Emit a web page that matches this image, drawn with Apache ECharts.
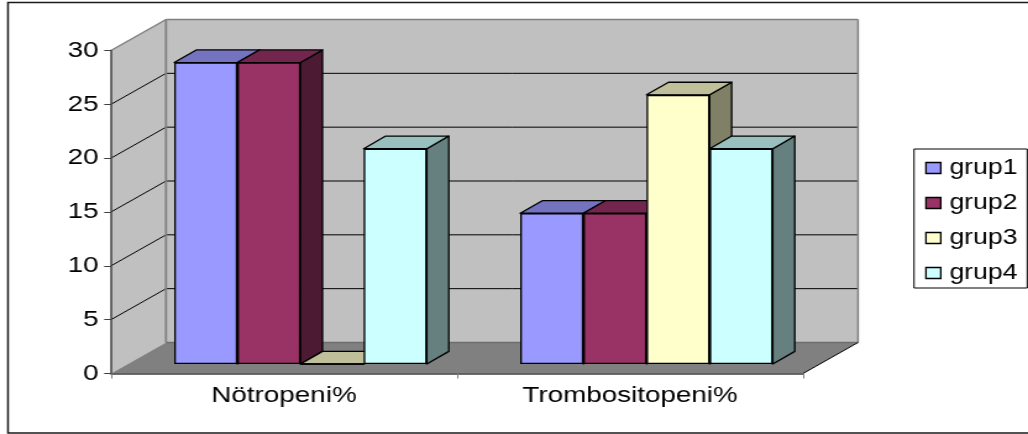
<!DOCTYPE html>
<html>
<head>
<meta charset="utf-8">
<script src="https://cdn.jsdelivr.net/npm/echarts@6/dist/echarts.min.js"></script>
<style>
  html, body { margin: 0; padding: 0; background: #fff; overflow: hidden; width: 1028px; height: 434px; }
  /* The chart is laid out narrow, then widened to its final shape. */
  #chart { width: 832px; height: 434px; transform-origin: 0 0; transform: scaleX(1.2356); }
</style>
</head>
<body>
<div id="chart"></div>
<script>
const categories = ['Nötropeni%', 'Trombositopeni%'];
const seriesNames = ['grup1', 'grup2', 'grup3', 'grup4'];
const grup1 = [28, 14];
const grup2 = [28, 14];
const grup3 = [0, 25];
const grup4 = [20, 20];
const valueTicks = [0, 5, 10, 15, 20, 25, 30];

const frontColors = ['#9999FF', '#993366', '#FFFFCC', '#CCFFFF'];
const topColors = ['#7373BF', '#73264D', '#BFBF99', '#99BFBF'];
const sideColors = ['#4D4D80', '#4D1A33', '#808066', '#668080'];

const stretch = 1028 / 832;
const px = v => v / stretch;          // final page x -> chart x
const FONT = 'Liberation Sans, Arial, sans-serif';
const plotWidth = px(692);
const plotHeight = 323;
const wallDx = px(55), wallDy = -31;  // front plane to back wall
const barDx = px(22), barDy = -12.6;  // depth of a bar
const gapRatio = 0.27;
const edge = { stroke: '#000', lineWidth: 1.3 };

const values = [grup1, grup2, grup3, grup4];

// Back wall, side wall, floor and their gridlines.
function renderWalls(params, api) {
  const r = params.coordSys;
  const x0 = r.x, x1 = r.x + r.width;
  const y0 = api.coord([0, 0])[1];
  const yTop = api.coord([0, 30])[1];
  const poly = (points, style) => ({ type: 'polygon', shape: { points }, style });
  const line = (a, b, stroke, lineWidth) => ({
    type: 'line',
    shape: { x1: a[0], y1: a[1], x2: b[0], y2: b[1] },
    style: { stroke, lineWidth }
  });
  const children = [
    poly([[x0 + wallDx, yTop + wallDy], [x1 + wallDx, yTop + wallDy],
          [x1 + wallDx, y0 + wallDy], [x0 + wallDx, y0 + wallDy]], { fill: '#C0C0C0' }),
    poly([[x0, yTop], [x0 + wallDx, yTop + wallDy], [x0 + wallDx, y0 + wallDy], [x0, y0]], { fill: '#C0C0C0' }),
    poly([[x0, y0], [x1, y0], [x1 + wallDx, y0 + wallDy], [x0 + wallDx, y0 + wallDy]], { fill: '#808080' })
  ];
  valueTicks.forEach(t => {
    if (t === 0 || t === 30) return;
    const y = api.coord([0, t])[1];
    children.push(line([x0, y], [x0 + wallDx, y + wallDy], '#000', 1));
    children.push(line([x0 + wallDx, y + wallDy], [x1 + wallDx, y + wallDy], '#000', 1));
  });
  const gray = '#808080';
  children.push(line([x0, yTop], [x0 + wallDx, yTop + wallDy], gray, 1.5));
  children.push(line([x0 + wallDx, yTop + wallDy], [x1 + wallDx, yTop + wallDy], gray, 1.5));
  children.push(line([x0 + wallDx, yTop + wallDy], [x0 + wallDx, y0 + wallDy], gray, 1.8));
  children.push(line([x1 + wallDx, yTop + wallDy], [x1 + wallDx, y0 + wallDy], gray, 1.5));
  children.push(line([x0 + wallDx, y0 + wallDy], [x1 + wallDx, y0 + wallDy], '#6e6e6e', 1.5));
  children.push(line([x1, y0], [x1 + wallDx, y0 + wallDy], '#000', 1));
  return { type: 'group', children };
}

// Top and right faces of each bar; the front face is the bar series itself.
function depthRenderer(i) {
  return function (params, api) {
    const cat = api.value(0), val = api.value(1);
    const band = api.size([1, 0])[0];
    const w = band * (1 - gapRatio) / 4;
    const center = api.coord([cat, 0])[0];
    const xl = center - band * (1 - gapRatio) / 2 + i * w;
    const xr = xl + w;
    const yt = api.coord([cat, val])[1];
    const yb = api.coord([cat, 0])[1];
    return {
      type: 'group',
      children: [
        {
          type: 'polygon',
          shape: { points: [[xr, yb], [xr + barDx, yb + barDy], [xr + barDx, yt + barDy], [xr, yt]] },
          style: Object.assign({ fill: sideColors[i], lineJoin: 'round' }, edge)
        },
        {
          type: 'polygon',
          shape: { points: [[xl, yt], [xl + barDx, yt + barDy], [xr + barDx, yt + barDy], [xr, yt]] },
          style: Object.assign({ fill: topColors[i], lineJoin: 'round' }, edge)
        }
      ]
    };
  };
}

const series = [{
  type: 'custom',
  xAxisIndex: 0,
  yAxisIndex: 0,
  z: 0,
  silent: true,
  clip: false,
  data: [[0, 0]],
  renderItem: renderWalls
}];

seriesNames.forEach((name, i) => {
  series.push({
    type: 'custom',
    xAxisIndex: 1,
    yAxisIndex: 1,
    z: 3 + 2 * i,
    silent: true,
    clip: false,
    data: values[i].map((v, c) => [c, v]),
    renderItem: depthRenderer(i)
  });
  series.push({
    type: 'bar',
    name,
    xAxisIndex: 1,
    yAxisIndex: 1,
    z: 4 + 2 * i,
    barGap: 0,
    barCategoryGap: (gapRatio * 100) + '%',
    data: values[i],
    itemStyle: { color: frontColors[i], borderColor: '#000', borderWidth: 1.3 }
  });
});

const chart = echarts.init(document.getElementById('chart'), null, { renderer: 'canvas' });
chart.setOption({
  animation: false,
  backgroundColor: '#fff',
  color: frontColors,
  grid: [
    { left: px(111), top: 50.5, width: plotWidth, height: plotHeight },
    { left: px(127.5), top: 41, width: plotWidth, height: plotHeight }
  ],
  xAxis: [
    {
      type: 'category', gridIndex: 0, data: categories, z: 2,
      axisLine: { lineStyle: { color: '#404040', width: 1.5 } },
      axisTick: { show: true, length: 5, lineStyle: { color: '#808080', width: 1 } },
      axisLabel: { color: '#000', fontFamily: FONT, fontSize: 22.5, margin: 11 }
    },
    { type: 'category', gridIndex: 1, data: categories, show: false }
  ],
  yAxis: [
    {
      type: 'value', gridIndex: 0, min: 0, max: 30, interval: 5, z: 2,
      axisLine: { show: true, lineStyle: { color: '#404040', width: 1.5 } },
      axisTick: { show: true, length: 5.5, lineStyle: { color: '#404040', width: 1 } },
      axisLabel: { color: '#000', fontFamily: FONT, fontSize: 22.5, margin: 10 },
      splitLine: { show: false }
    },
    { type: 'value', gridIndex: 1, min: 0, max: 30, interval: 5, show: false, splitLine: { show: false } }
  ],
  legend: {
    data: seriesNames,
    orient: 'vertical',
    left: px(914),
    top: 149,
    width: px(111),
    padding: [8, 8, 4, 9],
    itemWidth: 12,
    itemHeight: 11,
    itemGap: 13,
    icon: 'rect',
    selectedMode: false,
    borderColor: '#000',
    borderWidth: 1,
    backgroundColor: '#fff',
    itemStyle: { borderColor: '#000', borderWidth: 1.3 },
    textStyle: { color: '#000', fontFamily: FONT, fontSize: 21.5, padding: [0, 0, 0, 2] }
  },
  graphic: [{
    type: 'rect',
    silent: true,
    z: -1,
    shape: { x: px(8), y: 2.5, width: 900, height: 430.5 },
    style: { fill: 'none', stroke: '#1a1a1a', lineWidth: 1.5 }
  }],
  series
});
</script>
</body>
</html>
